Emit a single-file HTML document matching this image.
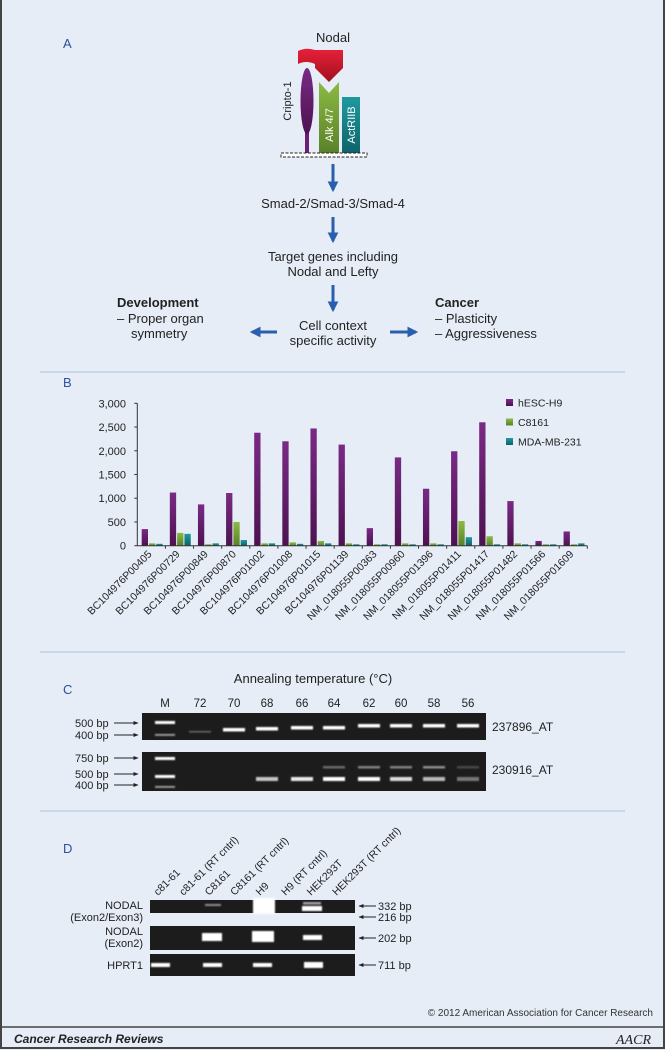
<!DOCTYPE html>
<html><head><meta charset="utf-8"><style>
html,body{margin:0;padding:0;background:#e6edf7;}
svg{display:block;font-family:"Liberation Sans",Arial,sans-serif;}
</style></head><body>
<svg id="fig" width="665" height="1050" viewBox="0 0 665 1050">
<defs>
<linearGradient id="gp" x1="0" x2="0" y1="0" y2="1"><stop offset="0" stop-color="#7a2a85"/><stop offset="1" stop-color="#4d1250"/></linearGradient>
<linearGradient id="gg" x1="0" x2="0" y1="0" y2="1"><stop offset="0" stop-color="#8cba44"/><stop offset="1" stop-color="#5a8028"/></linearGradient>
<linearGradient id="gt" x1="0" x2="0" y1="0" y2="1"><stop offset="0" stop-color="#1f9aa0"/><stop offset="1" stop-color="#0e6268"/></linearGradient>
<linearGradient id="gr" x1="0" x2="0" y1="0" y2="1"><stop offset="0" stop-color="#e8203a"/><stop offset="1" stop-color="#a0101e"/></linearGradient>
<filter id="blur" x="-20%" y="-80%" width="140%" height="260%"><feGaussianBlur stdDeviation="0.9"/></filter>
<marker id="ah" viewBox="0 0 10 10" refX="8" refY="5" markerWidth="3.6" markerHeight="3.6" orient="auto"><path d="M0,0 L10,5 L0,10 z" fill="#2a5fae"/></marker>
<marker id="sa" viewBox="0 0 10 10" refX="9" refY="5" markerWidth="5" markerHeight="5" orient="auto"><path d="M0,1 L10,5 L0,9 z" fill="#222"/></marker>
</defs>
<rect x="0" y="0" width="665" height="1050" fill="#e6edf7"/>
<rect x="1" y="-2" width="663" height="1050" fill="none" stroke="#444" stroke-width="2"/>
<line x1="2" y1="1027" x2="663" y2="1027" stroke="#444" stroke-width="1.5"/>

<line x1="40" y1="372" x2="625" y2="372" stroke="#a9c2e2" stroke-width="1"/>
<line x1="40" y1="652" x2="625" y2="652" stroke="#a9c2e2" stroke-width="1"/>
<line x1="40" y1="811" x2="625" y2="811" stroke="#a9c2e2" stroke-width="1"/>

<g fill="#2d4f9e" font-size="13">
<text x="63" y="48">A</text>
<text x="63" y="387">B</text>
<text x="63" y="694">C</text>
<text x="63" y="853">D</text>
</g>

<g>
<text x="333" y="42" text-anchor="middle" font-size="13" fill="#222">Nodal</text>
<path d="M298,51 Q306,47 315,50 L343,50 L343,68 L329,82 L315,68 L315,64 Q306,60 298,64 Z" fill="url(#gr)"/>
<rect x="305" y="128" width="4" height="26" fill="#6b1f73"/>
<ellipse cx="307" cy="101" rx="6.5" ry="33" fill="url(#gp)"/>
<text transform="translate(291,101) rotate(-90)" text-anchor="middle" font-size="11" fill="#222">Cripto-1</text>
<path d="M319,82 L329,93 L339,82 L339,154 L319,154 Z" fill="url(#gg)"/>
<text transform="translate(333,125) rotate(-90)" text-anchor="middle" font-size="11" fill="#fff">Alk 4/7</text>
<rect x="342" y="97" width="18" height="57" fill="url(#gt)"/>
<text transform="translate(355,125) rotate(-90)" text-anchor="middle" font-size="11" fill="#fff">ActRIIB</text>
<rect x="281" y="153" width="86" height="4" fill="#fff" stroke="#222" stroke-width="1" stroke-dasharray="3,1.5"/>
<g stroke="#2a5fae" stroke-width="3" fill="none">
<line x1="333" y1="164" x2="333" y2="190" marker-end="url(#ah)"/>
<line x1="333" y1="217" x2="333" y2="241" marker-end="url(#ah)"/>
<line x1="333" y1="285" x2="333" y2="310" marker-end="url(#ah)"/>
<line x1="277" y1="332" x2="252" y2="332" marker-end="url(#ah)"/>
<line x1="390" y1="332" x2="416" y2="332" marker-end="url(#ah)"/>
</g>
<g font-size="13" fill="#222" text-anchor="middle">
<text x="333" y="208">Smad-2/Smad-3/Smad-4</text>
<text x="333" y="261">Target genes including</text>
<text x="333" y="276">Nodal and Lefty</text>
<text x="333" y="330">Cell context</text>
<text x="333" y="345">specific activity</text>
</g>
<g font-size="13" fill="#222">
<text x="117" y="307" font-weight="bold">Development</text>
<text x="117" y="323">– Proper organ</text>
<text x="131" y="338">symmetry</text>
<text x="435" y="307" font-weight="bold">Cancer</text>
<text x="435" y="323">– Plasticity</text>
<text x="435" y="338">– Aggressiveness</text>
</g>
</g>

<g id="chartB"></g>

<g>
<text x="313" y="683" text-anchor="middle" font-size="13" fill="#222">Annealing temperature (°C)</text>
<g id="laneLabelsC" font-size="11.5" fill="#222" text-anchor="middle"></g>
<rect x="142" y="713" width="344" height="27" fill="#1c1c1c"/>
<rect x="142" y="752" width="344" height="39" fill="#1c1c1c"/>
<g id="bandsC" fill="#fff" filter="url(#blur)"></g>
<g font-size="11" fill="#222">
<text x="75" y="727">500 bp</text><text x="75" y="739">400 bp</text>
<text x="75" y="762">750 bp</text><text x="75" y="778">500 bp</text><text x="75" y="789">400 bp</text>
<text x="492" y="731" font-size="12">237896_AT</text>
<text x="492" y="774" font-size="12">230916_AT</text>
</g>
<g stroke="#222" stroke-width="1" marker-end="url(#sa)">
<line x1="114" y1="723" x2="138" y2="723"/><line x1="114" y1="735" x2="138" y2="735"/>
<line x1="114" y1="758" x2="138" y2="758"/><line x1="114" y1="774" x2="138" y2="774"/><line x1="114" y1="785" x2="138" y2="785"/>
</g>
</g>

<g>
<g id="laneLabelsD" font-size="10.5" fill="#222"></g>
<rect x="150" y="900" width="205" height="13" fill="#1c1c1c"/>
<rect x="150" y="926" width="205" height="24" fill="#1c1c1c"/>
<rect x="150" y="954" width="205" height="22" fill="#1c1c1c"/>
<g fill="#fff" filter="url(#blur)">
<rect x="205" y="904" width="16" height="2" opacity="0.5"/>
<rect x="253" y="898" width="22" height="16"/>
<rect x="303" y="902" width="18" height="2.5" opacity="0.6"/>
<rect x="302" y="906" width="20" height="5"/>
<rect x="202" y="933" width="20" height="8"/>
<rect x="252" y="931" width="22" height="11"/>
<rect x="303" y="935" width="19" height="5"/>
<rect x="151" y="963" width="19" height="4"/>
<rect x="203" y="963" width="19" height="4"/>
<rect x="253" y="963" width="19" height="4"/>
<rect x="304" y="962" width="19" height="6"/>
</g>
<g font-size="11" fill="#222" text-anchor="end">
<text x="143" y="909">NODAL</text><text x="143" y="921">(Exon2/Exon3)</text>
<text x="143" y="935">NODAL</text><text x="143" y="947">(Exon2)</text>
<text x="143" y="969">HPRT1</text>
</g>
<g font-size="11" fill="#222">
<text x="378" y="910">332 bp</text><text x="378" y="921">216 bp</text>
<text x="378" y="942">202 bp</text><text x="378" y="969">711 bp</text>
</g>
<g stroke="#222" stroke-width="1" marker-end="url(#sa)">
<line x1="376" y1="906" x2="359" y2="906"/><line x1="376" y1="917" x2="359" y2="917"/>
<line x1="376" y1="938" x2="359" y2="938"/><line x1="376" y1="965" x2="359" y2="965"/>
</g>
</g>

<text x="653" y="1016" text-anchor="end" font-size="10" fill="#333">© 2012  American Association for Cancer Research</text>
<text x="14" y="1043" font-size="12" font-weight="bold" font-style="italic" fill="#222">Cancer Research Reviews</text>
<text x="651" y="1044" text-anchor="end" font-size="14" font-style="italic" font-family="Liberation Serif,serif" fill="#222">AACR</text>
</svg>
<script>
const categories=["BC104976P00405","BC104976P00729","BC104976P00849","BC104976P00870","BC104976P01002","BC104976P01008","BC104976P01015","BC104976P01139","NM_018055P00363","NM_018055P00960","NM_018055P01396","NM_018055P01411","NM_018055P01417","NM_018055P01482","NM_018055P01566","NM_018055P01609"];
const hescH9=[350,1120,870,1110,2380,2200,2470,2130,370,1860,1200,1990,2600,940,100,300];
const c8161=[50,270,30,500,50,70,100,50,30,50,50,520,200,50,30,30];
const mdaMb231=[40,250,50,120,50,40,50,30,30,30,30,180,30,30,30,50];
const yTicks=[0,500,1000,1500,2000,2500,3000];
const yTickLabels=["0","500","1,000","1,500","2,000","2,500","3,000"];
const seriesNames=["hESC-H9","C8161","MDA-MB-231"];
const laneLabelsC=["M","72","70","68","66","64","62","60","58","56"];
const laneLabelsD=["c81-61","c81-61 (RT cntrl)","C8161","C8161 (RT cntrl)","H9","H9 (RT cntrl)","HEK293T","HEK293T (RT cntrl)"];

const NS="http://www.w3.org/2000/svg";
function mk(tag,attrs,parent){const e=document.createElementNS(NS,tag);for(const k in attrs)e.setAttribute(k,attrs[k]);parent.appendChild(e);return e;}
const g=document.getElementById('chartB');
const x0=137.3,x1=587.3,y0=545.7,yTop=403.3,yMax=3000;
const bw=(x1-x0)/categories.length;
function yS(v){return y0-(v/yMax)*(y0-yTop);}
function xS(i){return x0+i*bw;}
yTicks.forEach((t,i)=>{
  const tl=mk('text',{x:126,y:yS(t)+4,'text-anchor':'end','font-size':11,fill:'#222'},g);
  tl.textContent=yTickLabels[i];
  
  
  mk('line',{x1:x0-3,x2:x0,y1:yS(t),y2:yS(t),stroke:'#333','stroke-width':1},g);
});
mk('line',{x1:x0,x2:x0,y1:yTop,y2:y0,stroke:'#333','stroke-width':1},g);
const fills=['url(#gp)','url(#gg)','url(#gt)'];
const series=[hescH9,c8161,mdaMb231];
categories.forEach((c,i)=>{
  series.forEach((s,k)=>{
    const bx=xS(i)+4.4+k*7.3;
    const r=mk('rect',{x:bx,y:yS(s[i]),width:6.3,height:y0-yS(s[i]),fill:fills[k]},g);
    
    
  });
  mk('line',{x1:xS(i+1),x2:xS(i+1),y1:y0,y2:y0+3,stroke:'#333','stroke-width':1},g);
  const cx=xS(i)+bw/2+1;
  const t=mk('text',{transform:`translate(${cx},${y0+9}) rotate(-45)`,'text-anchor':'end','font-size':10.5,fill:'#222'},g);
  t.textContent=c;
  
  
});
mk('line',{x1:x0,x2:x1,y1:y0,y2:y0,stroke:'#333','stroke-width':1},g);
seriesNames.forEach((n,k)=>{
  const ly=399+k*19.5;
  mk('rect',{x:506,y:ly,width:7,height:7,fill:fills[k]},g);
  const t=mk('text',{x:518,y:ly+7.5,'font-size':10.5,fill:'#222'},g);
  t.textContent=n;
  
  
});

const lc=document.getElementById('laneLabelsC');
const lanesCx=[165,200,234,267,302,334,369,401,434,468];
laneLabelsC.forEach((l,i)=>{const t=mk('text',{x:lanesCx[i],y:707},lc);t.textContent=l;
  
  });
const bc=document.getElementById('bandsC');
mk('rect',{x:lanesCx[0]-10,y:721,width:20,height:3},bc);
mk('rect',{x:lanesCx[0]-10,y:734,width:20,height:1.8,opacity:0.6},bc);
const b1y=[0,731,728,727,726,726,724,724,724,724];
for(let i=1;i<10;i++){mk('rect',{x:lanesCx[i]-11,y:b1y[i],width:22,height:i==1?1.5:3.5,opacity:i==1?0.35:1},bc);}
mk('rect',{x:lanesCx[0]-10,y:757,width:20,height:3},bc);
mk('rect',{x:lanesCx[0]-10,y:775,width:20,height:3},bc);
mk('rect',{x:lanesCx[0]-10,y:786,width:20,height:1.8,opacity:0.6},bc);
const b2op=[0,0,0,0.75,0.9,1,1,0.85,0.7,0.4];
const b2up=[0,0,0,0,0,0.35,0.45,0.45,0.5,0.2];
for(let i=3;i<10;i++){mk('rect',{x:lanesCx[i]-11,y:777,width:22,height:4,opacity:b2op[i]},bc);
 if(b2up[i])mk('rect',{x:lanesCx[i]-11,y:766,width:22,height:2.5,opacity:b2up[i]},bc);}

const ld=document.getElementById('laneLabelsD');
laneLabelsD.forEach((l,i)=>{const cx=158+i*25.5;const t=mk('text',{transform:`translate(${cx},896) rotate(-45)`},ld);t.textContent=l;
  
  });
</script>
</body></html>
